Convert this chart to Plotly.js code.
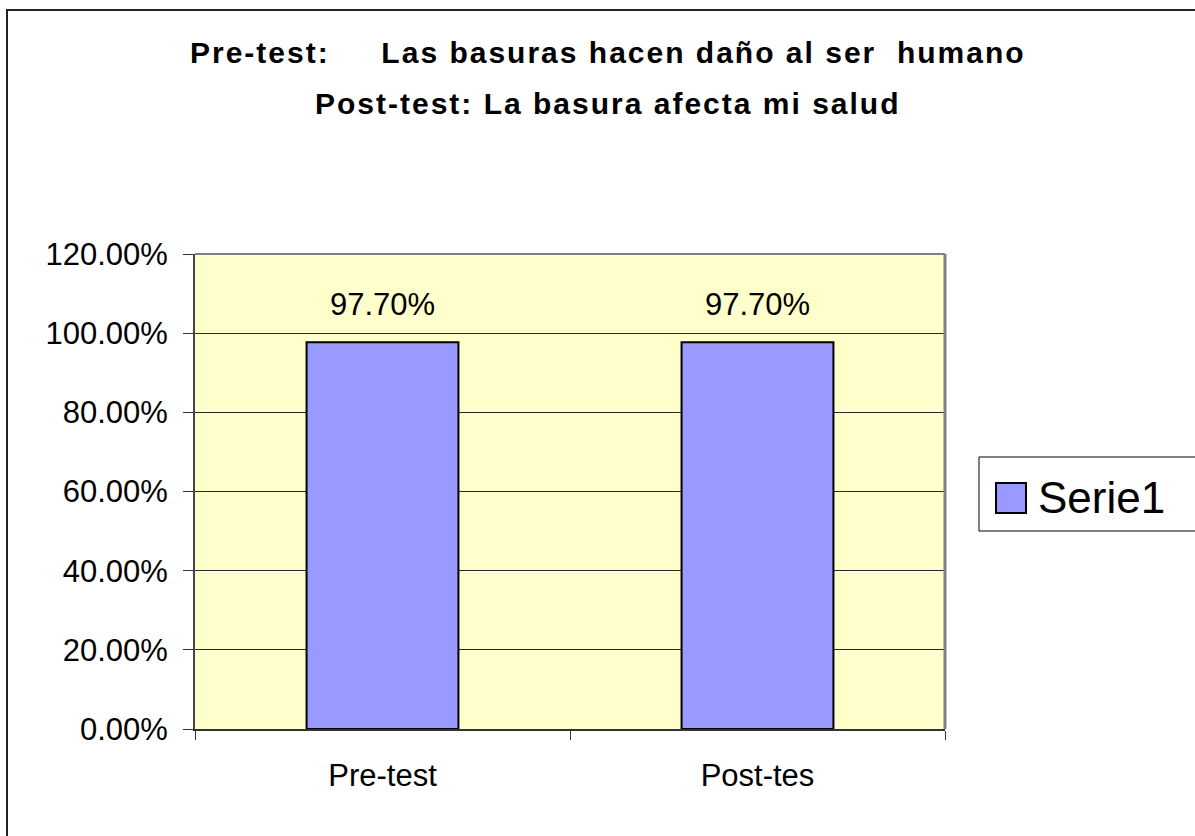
<!DOCTYPE html>
<html><head><meta charset="utf-8">
<script src="https://cdn.plot.ly/plotly-3.0.1.min.js"></script>
<style>
html,body{margin:0;padding:0;background:#fff;overflow:hidden;}
body{position:relative;width:1195px;height:836px;}
#chart{width:1195px;height:836px;}
#frame{position:absolute;left:6px;top:9px;width:1400px;height:1000px;border-left:2px solid #222;border-top:2px solid #222;pointer-events:none;}
.annotation[data-index="0"] text, .annotation[data-index="1"] text{letter-spacing:2px;}
</style>
</head><body><div id="chart"></div><div id="frame"></div>
<script>
const categories = ["Pre-test", "Post-tes"];
const values = [0.977, 0.977];
const seriesName = "Serie1";
const titleLine1 = "Pre-test:\u00a0\u00a0\u00a0\u00a0 Las basuras hacen daño al ser\u00a0 humano";
const titleLine2 = "Post-test: La basura afecta mi salud";
const yTickVals = [0, 0.2, 0.4, 0.6, 0.8, 1.0, 1.2];

const FONT = "Liberation Sans, Arial, sans-serif";

// geometry of plot area in pixels (for converting decoration positions)
const L = 195, R = 945, T = 254, B = 729;
const px = x => (x - L) / (R - L);
const py = y => (B - y) / (B - T);

const trace = {
  type: "bar",
  x: categories,
  y: values,
  name: seriesName,
  marker: {color: "#9999FF", line: {color: "#000", width: 2}},
  showlegend: false,
  hoverinfo: "x+y"
};

const labelAnnotations = categories.map((c, i) => ({
  x: c, y: values[i], xref: "x", yref: "y",
  text: (values[i] * 100).toFixed(2) + "%",
  showarrow: false, yanchor: "middle", yshift: 38,
  font: {family: FONT, size: 31, color: "#000"}
}));

const layout = {
  width: 1195, height: 836,
  margin: {l: L, r: 1195 - R, t: T, b: 836 - B, pad: 0},
  paper_bgcolor: "#fff",
  plot_bgcolor: "#FFFFCC",
  bargap: 0.595,
  font: {family: FONT, color: "#000"},
  xaxis: {
    type: "category",
    tickson: "boundaries",
    ticks: "outside", ticklen: 9, tickwidth: 1, tickcolor: "#333",
    showline: true, linecolor: "#333", linewidth: 2,
    showgrid: false,
    tickfont: {family: FONT, size: 31, color: "#000"},
    ticklabelstandoff: 18,
    fixedrange: true
  },
  yaxis: {
    range: [0, 1.2],
    tickvals: yTickVals,
    tickformat: ".2%",
    ticks: "outside", ticklen: 10, tickwidth: 1, tickcolor: "#333",
    showline: true, linecolor: "#444", linewidth: 2,
    showgrid: true, gridcolor: "#2a2a2a", gridwidth: 1,
    zeroline: false,
    tickfont: {family: FONT, size: 31, color: "#000"},
    ticklabelstandoff: 9,
    fixedrange: true
  },
  shapes: [
    {type: "line", xref: "paper", yref: "paper", x0: 0, x1: 1, y0: 1, y1: 1, line: {color: "#808080", width: 2}, layer: "above"},
    {type: "line", xref: "paper", yref: "paper", x0: 1, x1: 1, y0: 0, y1: 1, line: {color: "#808080", width: 3}, layer: "above"},
    {type: "rect", xref: "paper", yref: "paper", x0: px(979), x1: px(1196), y0: py(531), y1: py(457), line: {color: "#000", width: 1}, fillcolor: "#fff"},
    {type: "rect", xref: "paper", yref: "paper", x0: px(996), x1: px(1026), y0: py(513), y1: py(483), line: {color: "#000", width: 2}, fillcolor: "#9999FF"}
  ],
  annotations: [
    {xref: "paper", yref: "paper", x: px(608), y: py(53), text: "<b>" + titleLine1 + "</b>", showarrow: false, xanchor: "center", yanchor: "middle", font: {family: FONT, size: 30, color: "#000"}},
    {xref: "paper", yref: "paper", x: px(608), y: py(104), text: "<b>" + titleLine2 + "</b>", showarrow: false, xanchor: "center", yanchor: "middle", font: {family: FONT, size: 30, color: "#000"}},
    {xref: "paper", yref: "paper", x: px(1036), y: py(497), text: seriesName, showarrow: false, xanchor: "left", yanchor: "middle", font: {family: FONT, size: 44, color: "#000"}}
  ].concat(labelAnnotations)
};

Plotly.newPlot("chart", [trace], layout, {displayModeBar: false, staticPlot: true});
</script>
</body></html>
